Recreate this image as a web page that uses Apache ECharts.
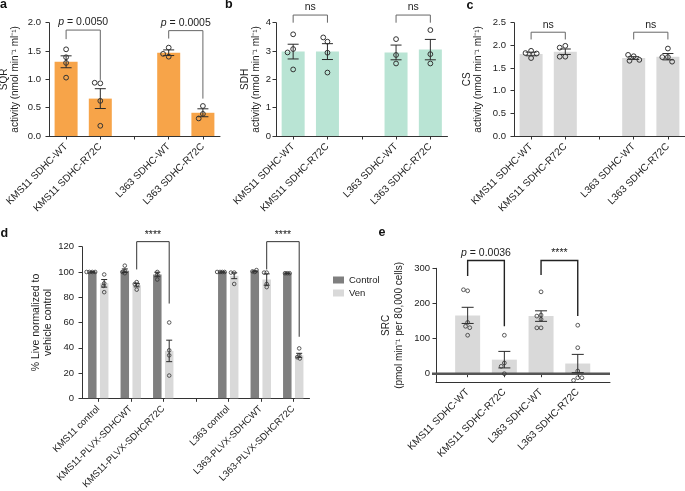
<!DOCTYPE html>
<html><head><meta charset="utf-8">
<script src="https://cdn.jsdelivr.net/npm/echarts@6/dist/echarts.min.js"></script>
<style>html,body{margin:0;padding:0;background:#fff}#c{width:685px;height:491px}</style>
</head><body><div id="c"></div>
<script>
// ---------------- data ----------------
const catsABC = ['KMS11 SDHC-WT', 'KMS11 SDHC-R72C', '', 'L363 SDHC-WT', 'L363 SDHC-R72C'];

const sqrMean = [1.31, 0.66, null, 1.47, 0.41];
const sqrSem  = [0.105, 0.175, null, 0.05, 0.07];
const sqrPts  = [[1.53, 1.39, 1.29, 1.03], [0.93, 0.94, 0.62, 0.18], [], [1.56, 1.40, 1.45], [0.53, 0.39, 0.31]];

const sdhMean = [2.98, 2.98, null, 2.95, 3.05];
const sdhSem  = [0.26, 0.28, null, 0.26, 0.36];
const sdhPts  = [[3.59, 3.07, 2.95, 2.35], [3.33, 3.48, 2.94, 2.24], [], [3.42, 2.86, 2.56], [3.74, 2.89, 2.56]];

const csMean = [1.81, 1.86, null, 1.72, 1.75];
const csSem  = [0.04, 0.06, null, 0.03, 0.07];
const csPts  = [[1.88, 1.83, 1.82, 1.72], [1.99, 1.95, 1.75, 1.75], [], [1.76, 1.66, 1.68, 1.79], [1.93, 1.74, 1.74, 1.64]];

const catsD = ['KMS11 control', 'KMS11-PLVX-SDHCWT', 'KMS11-PLVX-SDHCR72C', '', 'L363 control', 'L363-PLVX-SDHCWT', 'L363-PLVX-SDHCR72C'];
const ctrlMean = [100, 101, 98, null, 100, 100.5, 99];
const ctrlSem  = [0.3, 1.4, 1.8, null, 0.2, 0.4, 0.3];
const ctrlPts  = [[100, 100, 100, 100], [105, 101, 100, 99], [100, 98, 94], [], [100, 100, 100, 100], [100, 100.5, 101.5], [99, 99, 99]];
const venMean = [91, 89.5, 37.5, null, 97, 94, 34];
const venSem  = [3, 1.3, 8.5, null, 2.3, 4.5, 1.6];
const venPts  = [[98, 91, 89, 84], [92, 90.5, 90, 86], [60, 38, 34, 18], [], [99.5, 99.5, 90.5], [99.5, 99.5, 90.5, 88], [39.5, 34, 32.5, 31.5]];

const catsE = ['KMS11 SDHC-WT', 'KMS11 SDHC-R72C', 'L363 SDHC-WT', 'L363 SDHC-R72C'];
const srcMean = [166, 40, 164, 29];
const srcSem  = [23, 23.5, 15, 26];
const srcPts  = [[236, 239, 146, 135, 131, 109.5], [109.5, 30.5, 21, 0], [233, 167, 164, 155, 130.5, 130.5], [138, 74, 7.6, -11.4, -19, -11.4]];
const srcTicks = [0, 100, 200, 300];

// brackets: [leftCat, rightCat, topY, leftLegY, rightLegY]
const brA = [[0, 1, 1.87, 1.71, 0.99], [3, 4, 1.86, 1.72, 0.66]];
const brAText = ['p = 0.0050', 'p = 0.0005'];
const brB = [[0, 1, 4.27, 4.0, 4.0], [3, 4, 4.27, 4.0, 4.0]];
const brBText = ['ns', 'ns'];
const brC = [[0, 1, 2.29, 2.13, 2.13], [3, 4, 2.29, 2.13, 2.13]];
const brCText = ['ns', 'ns'];
const brD = [[1, 2, 124, 102, 75], [5, 6, 124, 102, 48.7]];
const brDText = ['****', '****'];
const brE = [[0, 1, 322, 278, 135], [2, 3, 322, 281, 164]];
const brEText = ['p = 0.0036', '****'];

// ---------------- helpers ----------------
const FONT = "'Liberation Sans', Arial, Helvetica, sans-serif";
const AX = '#333';
const TXT = '#222';
const D_BAR_W = 8.5, D_BAR_GAP = 0.4;
const D_OFF = (D_BAR_W + D_BAR_W * D_BAR_GAP) / 2;

function swarm(cx, ys, sep) {
  const step = sep / 4, placed = [];
  return ys.map(y => {
    let best = 0;
    for (let k = 0; k < 60; k++) {
      const off = k === 0 ? 0 : (k % 2 === 1 ? -1 : 1) * Math.ceil(k / 2) * step;
      if (placed.every(p => Math.hypot(p[0] - (cx + off), p[1] - y) >= sep)) { best = off; break; }
    }
    placed.push([cx + best, y]);
    return [cx + best, y];
  });
}

function pointsSeries(gi, ptsArr, o) {
  const data = ptsArr.map((p, i) => [i]).filter((d, i) => ptsArr[i].length);
  return {
    type: 'custom', xAxisIndex: gi, yAxisIndex: gi, clip: false, silent: true, z: 6, data,
    renderItem(params, api) {
      const i = api.value(0);
      const cx = api.coord([i, 0])[0] + (o.dx || 0);
      const ys = ptsArr[i].map(v => api.coord([i, v])[1]);
      const pos = swarm(cx, ys, o.sep);
      return {
        type: 'group',
        children: pos.map(p => ({
          type: 'circle', shape: { cx: p[0], cy: p[1], r: o.r },
          style: { fill: 'none', stroke: '#333', lineWidth: o.lw }
        }))
      };
    }
  };
}

function errSeries(gi, means, sems, o) {
  const data = means.map((m, i) => m == null ? null : [i, m, sems[i]]).filter(Boolean);
  return {
    type: 'custom', xAxisIndex: gi, yAxisIndex: gi, clip: false, silent: true, z: 5, data,
    renderItem(params, api) {
      const i = api.value(0), m = api.value(1), s = api.value(2);
      const t = api.coord([i, m + s]), b = api.coord([i, m - s]);
      const x = t[0] + (o.dx || 0), hw = o.cap / 2;
      const st = { stroke: '#2a2a2a', lineWidth: 1 };
      return {
        type: 'group', children: [
          { type: 'line', shape: { x1: x, y1: t[1], x2: x, y2: b[1] }, style: st },
          { type: 'line', shape: { x1: x - hw, y1: t[1], x2: x + hw, y2: t[1] }, style: st },
          { type: 'line', shape: { x1: x - hw, y1: b[1], x2: x + hw, y2: b[1] }, style: st }
        ]
      };
    }
  };
}

function fmtP(t) { return t.indexOf('p ') === 0 ? '{i|p}' + t.slice(1) : t; }

function bracketSeries(gi, arr, texts, o) {
  return {
    type: 'custom', xAxisIndex: gi, yAxisIndex: gi, clip: false, silent: true, z: 7, data: arr,
    renderItem(params, api) {
      const x1 = api.value(0), x2 = api.value(1), dx = o.dx || 0;
      const a = api.coord([x1, api.value(3)]), b = api.coord([x1, api.value(2)]);
      const c = api.coord([x2, api.value(2)]), d = api.coord([x2, api.value(4)]);
      const pts = [[a[0] + dx, a[1]], [b[0] + dx, b[1]], [c[0] + dx, c[1]], [d[0] + dx, d[1]]];
      const t = texts[params.dataIndex];
      return {
        type: 'group', children: [
          { type: 'polyline', shape: { points: pts }, style: { stroke: o.color, lineWidth: o.lw, fill: null } },
          {
            type: 'text', x: (pts[1][0] + pts[2][0]) / 2, y: pts[1][1] - o.tgap,
            style: {
              text: fmtP(t), fontSize: 10.5, fontFamily: FONT, fill: TXT, align: 'center', verticalAlign: 'bottom',
              rich: { i: { fontStyle: 'italic', fontSize: 10.5, fontFamily: FONT, fill: TXT } }
            }
          }
        ]
      };
    }
  };
}

function catAxis(gi, cats, fs, margin, opt) {
  return Object.assign({
    type: 'category', gridIndex: gi, data: cats,
    axisLine: { show: true, lineStyle: { color: AX, width: 1 } },
    axisTick: { show: true, alignWithLabel: true, interval: 0, length: 3.5, lineStyle: { color: AX, width: 1 } },
    axisLabel: { interval: 0, rotate: 45, fontSize: fs, color: TXT, fontFamily: FONT, margin: margin },
    splitLine: { show: false }
  }, opt || {});
}

function valAxis(gi, min, max, interval, name, gap, lh, fmt, margin, nfs) {
  return {
    type: 'value', gridIndex: gi, min, max, interval,
    axisLine: { show: true, lineStyle: { color: AX, width: 1 } },
    axisTick: { show: true, length: 3.5, lineStyle: { color: AX, width: 1 } },
    axisLabel: { fontSize: 9.5, color: TXT, fontFamily: FONT, margin: margin, formatter: fmt },
    splitLine: { show: false },
    name, nameLocation: 'middle', nameGap: gap,
    nameTextStyle: { fontSize: nfs || 10, color: TXT, fontFamily: FONT, lineHeight: lh }
  };
}

const f1 = v => v.toFixed(1);
const f0 = v => String(v);
const unit = 'activity (nmol min\u207B\u00B9 ml\u207B\u00B9)';

const grids = [
  { left: 49, top: 22.7, width: 171, height: 113.3 },
  { left: 276, top: 22.7, width: 171.5, height: 113.3 },
  { left: 514, top: 22.7, width: 171, height: 113.3 },
  { left: 82, top: 246.7, width: 227.5, height: 151.6 },
  { left: 436, top: 268.3, width: 174, height: 114.2 },
  { left: 449.3, top: 268.3, width: 146.8, height: 114.2 }
].map(g => Object.assign({ outerBoundsMode: 'none', containLabel: false }, g));

const xAxes = [
  catAxis(0, catsABC, 10, 9),
  catAxis(1, catsABC, 10, 9),
  catAxis(2, catsABC, 10, 9),
  catAxis(3, catsD, 9.5, 9),
  { type: 'value', gridIndex: 4, min: 0, max: 1, axisLine: { show: true, onZero: false, lineStyle: { color: AX, width: 1 } },
    axisTick: { show: false }, axisLabel: { show: false }, splitLine: { show: false } },
  catAxis(5, catsE, 10, 8, { axisLine: { show: false } })
];

const yAxes = [
  valAxis(0, 0, 2, 0.5, 'SQR\n' + unit, 28, 11, f1, 8),
  valAxis(1, 0, 4, 1, 'SDH\n' + unit, 11, 11, f0, 5),
  valAxis(2, 0, 2.5, 0.5, 'CS\n' + unit, 30, 11, f1, 8),
  valAxis(3, 0, 120, 20, '% Live normalized to\nvehicle control', 26, 12, f0, 8, 10.5),
  Object.assign(valAxis(4, -25, 300, null, 'SRC\n(pmol min\u207B\u00B9 per 80,000 cells)', 30, 13, f0, 6), {
    axisTick: { show: true, length: 3.5, customValues: srcTicks, lineStyle: { color: AX, width: 1 } },
    axisLabel: { fontSize: 9.5, color: TXT, fontFamily: FONT, margin: 6, customValues: srcTicks }
  }),
  { type: 'value', gridIndex: 5, min: -25, max: 300, show: false }
];
delete yAxes[4].interval;

function barS(gi, name, data, color, w, extra) {
  return Object.assign({
    type: 'bar', name, xAxisIndex: gi, yAxisIndex: gi, data, barWidth: w,
    itemStyle: { color }, silent: true, z: 2
  }, extra || {});
}

const series = [
  barS(0, 'SQR', sqrMean, '#f7a449', 23),
  errSeries(0, sqrMean, sqrSem, { cap: 11 }),
  pointsSeries(0, sqrPts, { r: 2.4, lw: 1, sep: 5.6 }),
  bracketSeries(0, brA, brAText, { color: '#666', lw: 1, tgap: 2 }),

  barS(1, 'SDH', sdhMean, '#b9e4d4', 23),
  errSeries(1, sdhMean, sdhSem, { cap: 11 }),
  pointsSeries(1, sdhPts, { r: 2.4, lw: 1, sep: 5.6 }),
  bracketSeries(1, brB, brBText, { color: '#666', lw: 1, tgap: 2 }),

  barS(2, 'CS', csMean, '#d9d9d9', 23),
  errSeries(2, csMean, csSem, { cap: 11 }),
  pointsSeries(2, csPts, { r: 2.4, lw: 1, sep: 5.6 }),
  bracketSeries(2, brC, brCText, { color: '#666', lw: 1, tgap: 2 }),

  barS(3, 'Control', ctrlMean, '#7f7f7f', D_BAR_W, { barGap: (D_BAR_GAP * 100) + '%' }),
  barS(3, 'Ven', venMean, '#d9d9d9', D_BAR_W, { barGap: (D_BAR_GAP * 100) + '%' }),
  errSeries(3, ctrlMean, ctrlSem, { cap: 6, dx: -D_OFF }),
  errSeries(3, venMean, venSem, { cap: 6, dx: D_OFF }),
  pointsSeries(3, ctrlPts, { r: 1.8, lw: 0.8, dx: -D_OFF, sep: 2.3 }),
  pointsSeries(3, venPts, { r: 1.8, lw: 0.8, dx: D_OFF, sep: 2.6 }),
  bracketSeries(3, brD, brDText, { color: '#333', lw: 1, tgap: 1, dx: D_OFF }),

  {
    type: 'custom', xAxisIndex: 4, yAxisIndex: 4, silent: true, clip: false, z: 3, data: [[0, 0]],
    renderItem(params, api) {
      const a = api.coord([0, 0]), b = api.coord([1, 0]);
      return { type: 'line', shape: { x1: a[0] - 4, y1: a[1], x2: b[0], y2: a[1] }, style: { stroke: '#555', lineWidth: 2.5 } };
    }
  },
  barS(5, 'SRC', srcMean, '#d9d9d9', 25),
  errSeries(5, srcMean, srcSem, { cap: 12 }),
  pointsSeries(5, srcPts, { r: 1.9, lw: 0.8, sep: 4.2 }),
  bracketSeries(5, brE, brEText, { color: '#222', lw: 1.4, tgap: 2 })
];

const letters = [['a', 0, 4.2], ['b', 225, 4.2], ['c', 466.5, 5.6], ['d', 0.5, 234], ['e', 378.5, 232.5]];

const option = {
  animation: false,
  backgroundColor: '#fff',
  textStyle: { fontFamily: FONT },
  grid: grids,
  xAxis: xAxes,
  yAxis: yAxes,
  legend: {
    data: ['Control', 'Ven'], orient: 'vertical', left: 328, top: 270, itemWidth: 11, itemHeight: 7, itemGap: 3,
    icon: 'rect', selectedMode: false, textStyle: { fontSize: 9.5, color: TXT, fontFamily: FONT }
  },
  graphic: letters.map(l => ({
    type: 'text', x: l[1], y: l[2],
    style: { text: l[0], fontSize: 12.5, fontWeight: 'bold', fontFamily: FONT, fill: '#111', align: 'left', verticalAlign: 'middle' }
  })),
  series
};

const chart = echarts.init(document.getElementById('c'), null, { renderer: 'canvas' });
chart.setOption(option);
</script>
</body></html>
